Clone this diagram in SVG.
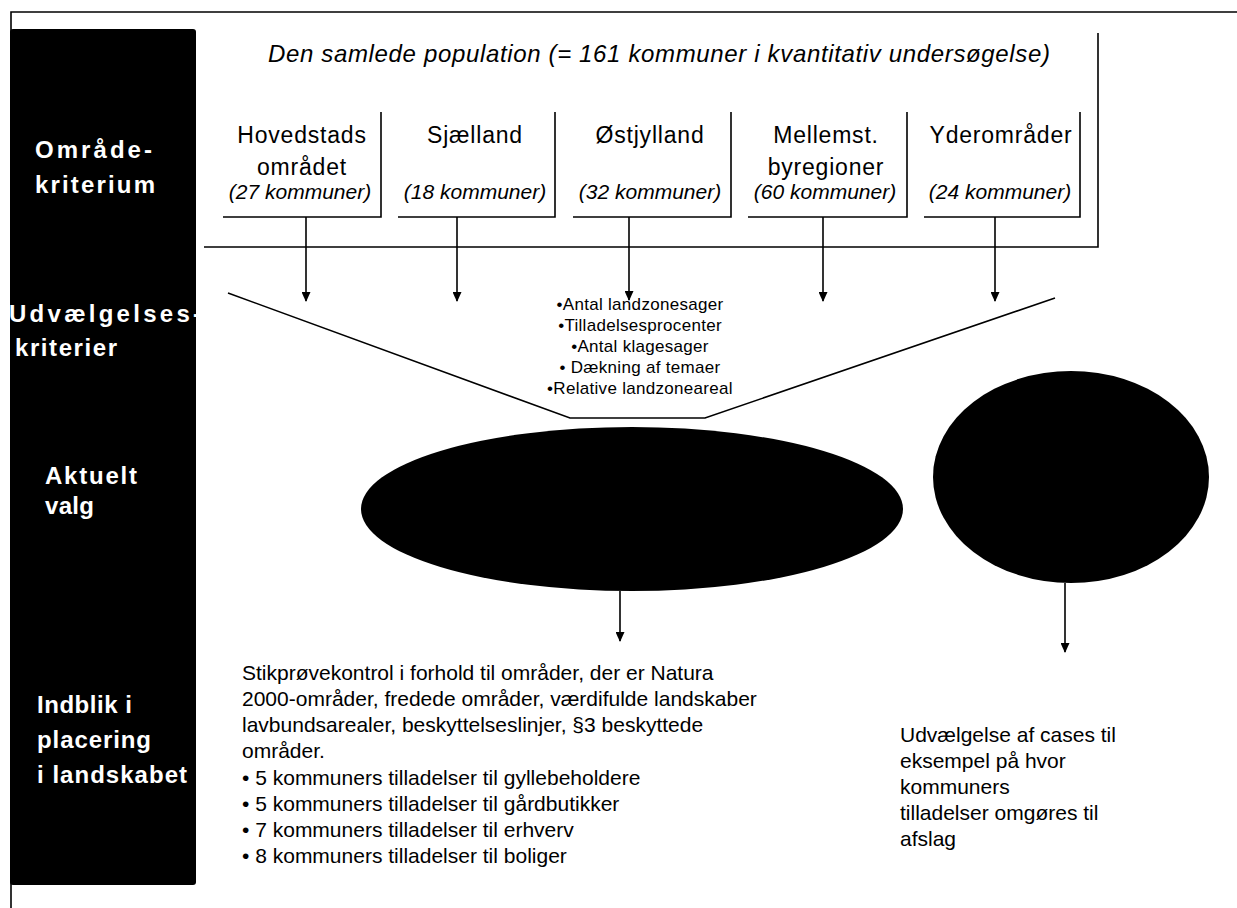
<svg xmlns="http://www.w3.org/2000/svg" width="1237" height="908" viewBox="0 0 1237 908">
<style>
text{font-family:"Liberation Sans",Arial,sans-serif;fill:#000}
.side{fill:#fff;font-weight:bold;font-size:24px}
.name{font-size:23px;letter-spacing:0.8px;text-anchor:middle}
.cnt{font-size:21px;font-style:italic;text-anchor:middle}
.crit{font-size:17px;letter-spacing:0.3px;text-anchor:middle}
.body{font-size:21px}
.ln{fill:none;stroke:#000;stroke-width:1.6}
.arr{fill:none;stroke:#000;stroke-width:1.6;marker-end:url(#ah)}
</style>
<defs>
<marker id="ah" markerWidth="10" markerHeight="9" refX="9" refY="4.5" orient="auto" markerUnits="userSpaceOnUse"><path d="M0,0 L10,4.5 L0,9 z" fill="#000"/></marker>
</defs>
<rect width="1237" height="908" fill="#fff"/>
<g id="frame">
<polyline class="ln" points="1237,12 11,12 11,908"/>
</g>
<g id="side-panel">
<rect x="10" y="29" width="186" height="856" rx="3" fill="#000"/>
<text class="side" x="35" y="158" textLength="117" lengthAdjust="spacing">Område-</text>
<text class="side" x="35" y="193" textLength="120" lengthAdjust="spacing">kriterium</text>
<text class="side" x="9" y="322" textLength="192" lengthAdjust="spacing">Udvælgelses-</text>
<text class="side" x="15" y="356" textLength="102" lengthAdjust="spacing">kriterier</text>
<text class="side" x="45" y="484" textLength="92" lengthAdjust="spacing">Aktuelt</text>
<text class="side" x="45" y="514" textLength="49" lengthAdjust="spacing">valg</text>
<text class="side" x="37" y="713" textLength="95" lengthAdjust="spacing">Indblik i</text>
<text class="side" x="37" y="748" textLength="114" lengthAdjust="spacing">placering</text>
<text class="side" x="37" y="783" textLength="150" lengthAdjust="spacing">i landskabet</text>
</g>
<g id="population">
<polyline class="ln" points="204,247 1098,247 1098,33"/>
<text x="268" y="62" font-size="24" font-style="italic" textLength="782" lengthAdjust="spacing">Den samlede population (= 161 kommuner i kvantitativ undersøgelse)</text>
</g>
<g id="hovedstad">
<polyline class="ln" points="223,217 381,217 381,112"/>
<text class="name" x="302" y="143">Hovedstads</text>
<text class="name" x="302" y="175">området</text>
<text class="cnt" x="300" y="199">(27 kommuner)</text>
</g>
<g id="sjaelland">
<polyline class="ln" points="398,217 555,217 555,112"/>
<text class="name" x="475" y="143">Sjælland</text>
<text class="cnt" x="475" y="199">(18 kommuner)</text>
</g>
<g id="oestjylland">
<polyline class="ln" points="573,217 731,217 731,112"/>
<text class="name" x="650" y="143">Østjylland</text>
<text class="cnt" x="650" y="199">(32 kommuner)</text>
</g>
<g id="mellemst">
<polyline class="ln" points="748,217 907,217 907,112"/>
<text class="name" x="826" y="143">Mellemst.</text>
<text class="name" x="826" y="175">byregioner</text>
<text class="cnt" x="825" y="199">(60 kommuner)</text>
</g>
<g id="yder">
<polyline class="ln" points="924,217 1080,217 1080,112"/>
<text class="name" x="1001" y="143">Yderområder</text>
<text class="cnt" x="1000" y="199">(24 kommuner)</text>
</g>
<g id="funnel">
<polyline class="ln" points="228,293 570,418 705,418 1055,298"/>
<text class="crit" x="640" y="310">•Antal landzonesager</text>
<text class="crit" x="640" y="331">•Tilladelsesprocenter</text>
<text class="crit" x="640" y="352">•Antal klagesager</text>
<text class="crit" x="640" y="373">• Dækning af temaer</text>
<text class="crit" x="640" y="394">•Relative landzoneareal</text>
</g>
<g id="ellipse-valg">
<ellipse cx="632" cy="509" rx="271" ry="82" fill="#000"/>
</g>
<g id="circle-valg">
<ellipse cx="1071" cy="477" rx="138" ry="106" fill="#000"/>
</g>
<g id="connectors">
<line class="arr" x1="306" y1="217" x2="306" y2="301"/>
<line class="arr" x1="457" y1="217" x2="457" y2="301"/>
<line class="arr" x1="629" y1="217" x2="629" y2="300"/>
<line class="arr" x1="823" y1="217" x2="823" y2="301"/>
<line class="arr" x1="995" y1="217" x2="995" y2="301"/>
<line class="arr" x1="620" y1="591" x2="620" y2="641"/>
<line class="arr" x1="1065" y1="583" x2="1065" y2="652"/>
</g>
<g id="stikproeve">
<text class="body" x="242" y="680">Stikprøvekontrol i forhold til områder, der er Natura</text>
<text class="body" x="242" y="706">2000-områder, fredede områder, værdifulde landskaber</text>
<text class="body" x="242" y="732">lavbundsarealer, beskyttelseslinjer, §3 beskyttede</text>
<text class="body" x="242" y="758">områder.</text>
<text class="body" x="242" y="785">• 5 kommuners tilladelser til gyllebeholdere</text>
<text class="body" x="242" y="811">• 5 kommuners tilladelser til gårdbutikker</text>
<text class="body" x="242" y="837">• 7 kommuners tilladelser til erhverv</text>
<text class="body" x="242" y="863">• 8 kommuners tilladelser til boliger</text>
</g>
<g id="cases">
<text class="body" x="900" y="742">Udvælgelse af cases til</text>
<text class="body" x="900" y="768">eksempel på hvor</text>
<text class="body" x="900" y="794">kommuners</text>
<text class="body" x="900" y="820">tilladelser omgøres til</text>
<text class="body" x="900" y="846">afslag</text>
</g>
</svg>
